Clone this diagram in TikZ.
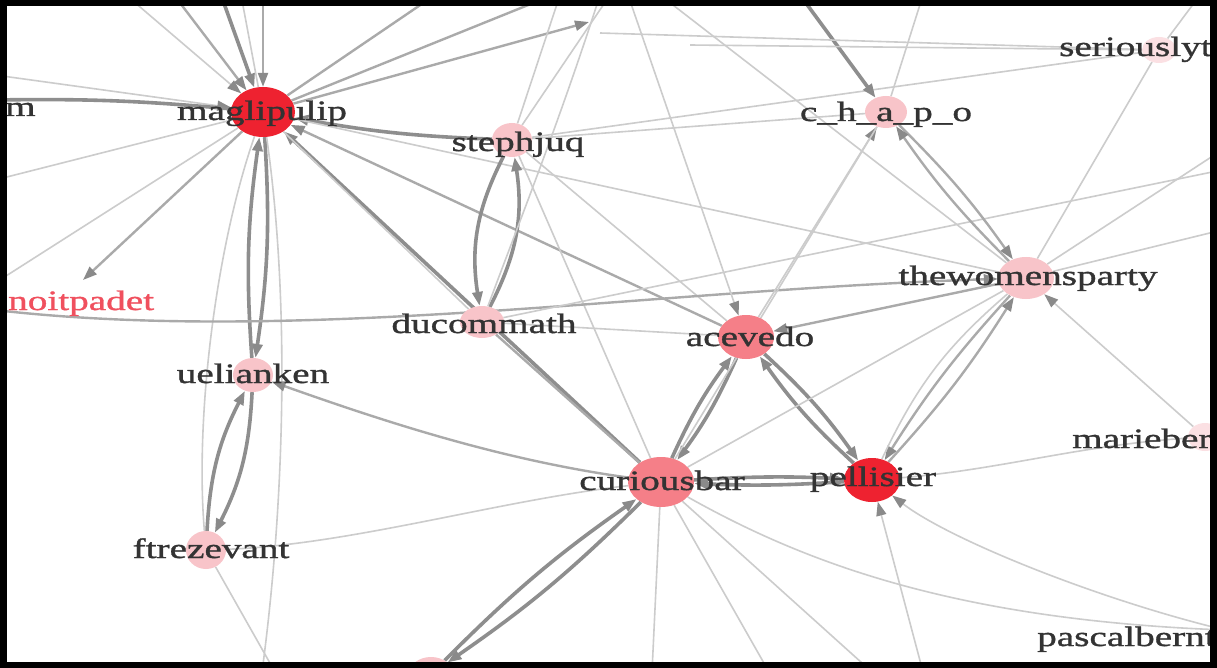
\documentclass[tikz,border=0pt]{standalone}
\usepackage{fontspec}
\setmainfont{Liberation Serif}
\newfontfamily\lblfont[FakeStretch=1.4,FakeBold=1.2]{Liberation Serif}
\usetikzlibrary{arrows.meta,shapes.geometric}
\pgfdeclarelayer{edges}
\pgfsetlayers{edges,main}
\definecolor{edgeA}{HTML}{CCCCCC}
\definecolor{edgeB}{HTML}{AAAAAA}
\definecolor{edgeC}{HTML}{8E8E8E}
\definecolor{tipc}{HTML}{8A8A8A}
\definecolor{nodeRed}{HTML}{EE2230}
\definecolor{nodeMid}{HTML}{F57F88}
\definecolor{nodePale}{HTML}{F8C4C9}
\definecolor{nodeFaint}{HTML}{FBE0E3}
\definecolor{txt}{HTML}{333333}
\definecolor{noitred}{HTML}{F0505E}
\tikzset{
  vtx/.style={ellipse, inner sep=0pt, draw=none},
  lbl/.style={font=\lblfont\fontsize{28}{30}\selectfont, text=txt, inner sep=0pt, anchor=base},
  ethin/.style={draw=edgeA, line width=1.6pt},
  emid/.style={draw=edgeB, line width=2.4pt},
  ethick/.style={draw=edgeC, line width=3.6pt},
  arrowed/.style={-{Triangle[length=14pt,width=10pt,color=tipc]}},
}
\begin{document}
\begin{tikzpicture}[x=1pt,y=-1pt]
\useasboundingbox (0,0) rectangle (1217,668);
\begin{scope}
\clip (6,5) rectangle (1211,662);
% vertices
\node[vtx, fill=nodeRed,   minimum width=64pt, minimum height=50pt] (mag) at (263,112) {};
\node[vtx, fill=nodePale,  minimum width=40pt, minimum height=34pt] (steph) at (512,140) {};
\node[vtx, fill=nodePale,  minimum width=42pt, minimum height=32pt] (chapo) at (886,112) {};
\node[vtx, fill=nodeFaint, minimum width=34pt, minimum height=26pt] (serious) at (1159,50) {};
\node[vtx, fill=nodePale,  minimum width=56pt, minimum height=42pt] (women) at (1026,278) {};
\node[vtx, fill=nodePale,  minimum width=44pt, minimum height=32pt] (ducom) at (482,322) {};
\node[vtx, fill=nodeMid,   minimum width=56pt, minimum height=44pt] (acev) at (746,337) {};
\node[vtx, fill=nodePale,  minimum width=40pt, minimum height=34pt] (uel) at (253,375) {};
\node[vtx, fill=nodeMid,   minimum width=66pt, minimum height=50pt] (cur) at (661,482) {};
\node[vtx, fill=nodeRed,   minimum width=56pt, minimum height=44pt] (pel) at (872,480) {};
\node[vtx, fill=nodeFaint, minimum width=34pt, minimum height=28pt] (marie) at (1205,437) {};
\node[vtx, fill=nodePale,  minimum width=40pt, minimum height=38pt] (ftre) at (206,550) {};
\node[vtx, fill=nodePale,  minimum width=44pt, minimum height=34pt] (botn) at (431,674) {};
% labels
\node[lbl] (magL) at (262,120) {maglipulip};
\node[lbl, anchor=base west] (mL) at (5,116) {m};
\node[lbl] (stephL) at (518,151) {stephjuq};
\node[lbl] (chapoL) at (886,121) {c\_h\_a\_p\_o};
\node[lbl, anchor=base west] (seriousL) at (1059,56) {seriouslyt};
\node[lbl] (womenL) at (1028,285) {thewomensparty};
\node[lbl, anchor=base west, text=noitred] (noitL) at (8,310) {noitpadet};
\node[lbl] (ducomL) at (484,333) {ducommath};
\node[lbl] (acevL) at (750,346) {acevedo};
\node[lbl] (uelL) at (253,383) {uelianken};
\node[lbl] (curL) at (662,490) {curiousbar};
\node[lbl] (pelL) at (873,486) {pellisier};
\node[lbl, anchor=base west] (marieL) at (1072,448) {mariebert};
\node[lbl, anchor=base west] (pascL) at (1037,646) {pascalbernt};
\node[lbl] (ftreL) at (211,558) {ftrezevant};
\end{scope}
% free ends
\coordinate (tA) at (126,-5);
\coordinate (tB) at (174,-5);
\coordinate (tC) at (221,-5);
\coordinate (tD) at (241,-5);
\coordinate (tE) at (263,-5);
\coordinate (tF) at (435,-5);
\coordinate (tG) at (553,-5);
\coordinate (tH) at (589,22);
\coordinate (tI) at (560,-5);
\coordinate (tJ) at (610,-5);
\coordinate (tK) at (800,-5);
\coordinate (tL) at (923,-5);
\coordinate (tM) at (628,-5);
\coordinate (tM2) at (660,-5);
\coordinate (tN) at (600,-5);
\coordinate (tS) at (1200,-5);
\coordinate (lA) at (-5,75);
\coordinate (lB) at (-5,100);
\coordinate (lC) at (-5,180);
\coordinate (lD) at (-5,283);
\coordinate (noitE) at (83,280);
\coordinate (noitS) at (-5,310);
\coordinate (sA) at (600,33);
\coordinate (sB) at (690,45);
\coordinate (rA) at (1222,170);
\coordinate (rB) at (1222,150);
\coordinate (rC) at (1222,230);
\coordinate (bA) at (275,672);
\coordinate (bB) at (652,672);
\coordinate (bC) at (769,672);
\coordinate (bE) at (923,672);
\coordinate (bG) at (262,672);
\coordinate (bH) at (872,672);
\coordinate (pasc) at (1225,630);
\begin{pgfonlayer}{edges}
\fill[white] (0,0) rectangle (1217,668);
\clip (6,5) rectangle (1211,662);
% around maglipulip
\draw[ethin,arrowed] (tA) -- (mag);
\draw[emid,arrowed] (tB) -- (mag);
\draw[ethick,arrowed] (tC) -- (mag);
\draw[ethin] (tD) -- (mag);
\draw[emid,arrowed] (tE) -- (mag);
\draw[emid] (mag) -- (tF);
\draw[emid] (mag) -- (tG);
\draw[emid,arrowed] (mag) -- (tH);
\draw[ethin,arrowed] (lA) -- (mag);
\draw[ethick] (lB) to[bend left=3] (mag);
\draw[ethin] (lC) -- (mag);
\draw[ethin] (lD) -- (mag);
\draw[emid,arrowed] (mag) -- (noitE);
\draw[ethick,arrowed] (mag) to[bend left=6] (uel);
\draw[ethick,arrowed] (uel) to[bend left=6] (mag);
\draw[ethin] (mag) .. controls (215,250) and (195,420) .. (ftre);
\draw[ethin] (mag) .. controls (290,300) and (285,500) .. (bG);
\draw[ethick,arrowed] (steph) to[bend left=4] (mag);
\draw[ethick,arrowed] (cur) -- (mag);
\draw[emid,arrowed] (acev) -- (mag);
\draw[ethin] (ducom) -- (mag);
\draw[ethin] (mag) -- (women);
% stephjuq / ducommath
\draw[ethick,arrowed] (steph) to[bend right=18] (ducom);
\draw[ethick,arrowed] (ducom) to[bend right=18] (steph);
\draw[ethin] (steph) -- (tI);
\draw[ethin] (steph) -- (tJ);
\draw[ethin] (steph) -- (serious);
\draw[ethin] (steph) -- (cur);
\draw[ethin] (steph) -- (acev);
\draw[ethin] (steph) -- (chapo);
\draw[emid,arrowed] (noitS) .. controls (300,345) and (650,290) .. (women);
\draw[ethin] (ducom) -- (acev);
\draw[emid] (ducom) -- (cur);
\draw[ethin] (ducom) -- (rA);
\draw[ethin] (tN) .. controls (560,120) and (520,220) .. (ducom);
% acevedo
\draw[ethick,arrowed] (cur) to[bend left=6] (acev);
\draw[ethick,arrowed] (acev) to[bend left=6] (cur);
\draw[ethick,arrowed] (pel) to[bend left=6] (acev);
\draw[ethick,arrowed] (acev) to[bend left=6] (pel);
\draw[emid,arrowed] (women) -- (acev);
\draw[ethin,arrowed] (acev) -- (chapo);
\draw[ethin,arrowed] (tM) -- (acev);
% c_h_a_p_o
\draw[ethick,arrowed] (tK) -- (chapo);
\draw[ethin] (tL) -- (chapo);
\draw[emid,arrowed] (chapo) to[bend left=5] (women);
\draw[emid,arrowed] (women) to[bend left=5] (chapo);
\draw[ethin] (cur) -- (chapo);
\draw[ethin] (sA) -- (serious);
\draw[ethin] (sB) -- (serious);
% thewomensparty
\draw[ethin] (serious) -- (women);
\draw[ethin] (serious) -- (tS);
\draw[ethin] (women) -- (rB);
\draw[ethin] (women) -- (rC);
\draw[ethin] (tM2) -- (women);
\draw[emid,arrowed] (pel) to[bend right=5] (women);
\draw[emid,arrowed] (women) to[bend right=5] (pel);
\draw[ethin] (pel) to[bend left=12] (women);
\draw[ethin] (cur) -- (women);
\draw[ethin,arrowed] (marie) -- (women);
% pellisier / curiousbar
\draw[ethick,arrowed] (cur) to[bend left=3] (pel);
\draw[ethick,arrowed] (pel) to[bend left=3] (cur);
\draw[ethin] (pel) .. controls (1000,470) and (1080,445) .. (marie);
\draw[ethin,arrowed] (pasc) .. controls (1100,600) and (950,540) .. (pel);
\draw[ethin,arrowed] (bE) -- (pel);
\draw[emid,arrowed] (cur) .. controls (500,460) and (380,420) .. (uel);
\draw[ethin] (cur) .. controls (500,500) and (350,545) .. (ftre);
\draw[ethick,arrowed] (cur) to[bend left=5] (botn);
\draw[ethick,arrowed] (botn) to[bend left=5] (cur);
\draw[ethin] (cur) -- (bB);
\draw[ethin] (cur) -- (bC);
\draw[ethin] (cur) -- (bH);
\draw[ethin] (cur) .. controls (800,560) and (950,620) .. (pasc);
% uelianken / ftrezevant
\draw[ethick,arrowed] (uel) to[bend left=12] (ftre);
\draw[ethick,arrowed] (ftre) to[bend left=12] (uel);
\draw[ethin] (ftre) -- (bA);
\end{pgfonlayer}
% frame
\draw[black, line width=7pt] (3.5,3) rectangle (1213.5,665);
\end{tikzpicture}
\end{document}
